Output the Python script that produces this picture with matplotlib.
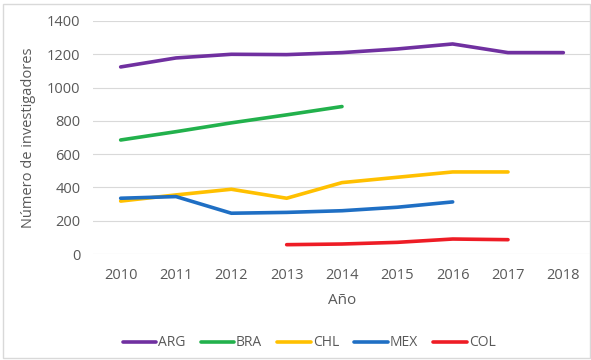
import matplotlib
matplotlib.use("Agg")
import matplotlib.pyplot as plt
import numpy as np
from matplotlib.patches import Rectangle

years = ["2010", "2011", "2012", "2013", "2014", "2015", "2016", "2017", "2018"]
arg = [1124, 1178, 1200, 1198, 1210, 1232, 1262, 1210, 1210]
bra = [685, 735, 788, 836, 886, None, None, None, None]
chl = [318, 355, 389, 335, 429, 461, 493, 493, None]
mex = [335, 345, 245, 250, 260, 281, 313, None, None]
col = [None, None, None, 56, 60, 70, 90, 86, None]

series = [("ARG", arg, "#7030a0"), ("BRA", bra, "#22b14c"), ("CHL", chl, "#ffc000"),
          ("MEX", mex, "#1f6fc4"), ("COL", col, "#ee1c25")]

plt.rcParams['font.family'] = ['Open Sans', 'DejaVu Sans']
fig = plt.figure(figsize=(5.91, 3.6), dpi=100)
ax = fig.add_axes([93/591, 1 - 254/360, (591 - 93)/591, (254 - 21)/360])

x = np.arange(len(years))
for name, vals, c in series:
    v = np.array([np.nan if a is None else a for a in vals], dtype=float)
    ax.plot(x, v, color=c, lw=2.6, label=name, solid_capstyle='round', solid_joinstyle='round')

ax.set_xlim(-0.5, len(years) - 0.5)
ax.set_ylim(0, 1400)
ax.set_yticks(range(0, 1401, 200))
ax.set_xticks(x)
ax.set_xticklabels(years)
ax.grid(axis='y', color='#d9d9d9', lw=0.8)
ax.set_axisbelow(True)
for s in ax.spines.values():
    s.set_visible(False)
ax.tick_params(length=0, colors='#595959', labelsize=10.5)
ax.tick_params(axis='x', pad=10)
ax.tick_params(axis='y', pad=9)
ax.set_xlabel("Año", color='#595959', fontsize=11, labelpad=7)
ax.set_ylabel("Número de investigadores", color='#595959', fontsize=10.5, labelpad=8)

leg = fig.legend(loc='center', bbox_to_anchor=(309/591, 1 - 343/360), ncol=5, frameon=False,
                 fontsize=10, handlelength=2.4, handletextpad=0.15, columnspacing=1.1,
                 labelcolor='#595959')

fig.patches.append(Rectangle((3/591, 2/360), 1 - 4/591, 1 - 6/360, transform=fig.transFigure,
                             fill=False, edgecolor='#d9d9d9', lw=1))

fig.savefig("out.png", dpi=100)
